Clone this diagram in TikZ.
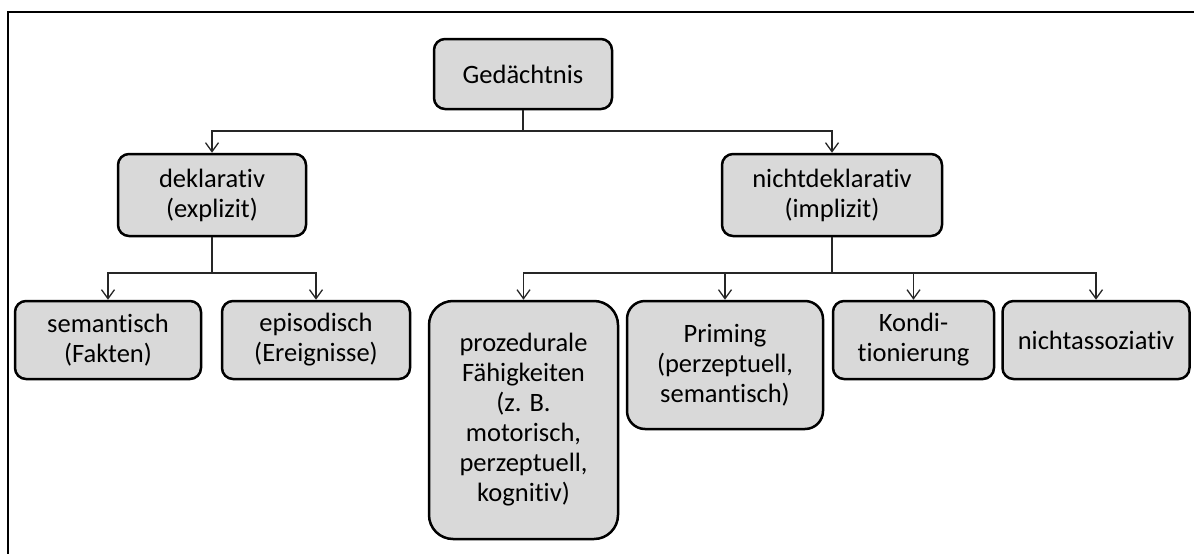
\documentclass[tikz,border=0pt]{standalone}
\usepackage{fontspec}
\setmainfont[Ligatures={NoCommon}]{Carlito}
\usetikzlibrary{arrows.meta}
\definecolor{boxgray}{RGB}{217,217,217}
\begin{document}
\begin{tikzpicture}[x=1pt,y=-1pt,
  box/.style={draw=black,fill=boxgray,line width=2.5pt,rounded corners=11pt,
    inner sep=0pt,align=center,font=\fontsize{26.5}{30}\selectfont},
  link/.style={draw=black!85,line width=1.3pt},
  tip/.style={-{Straight Barb[length=9pt,width=13pt,line width=1.3pt]}}]
\useasboundingbox (0,0) rectangle (1194,554);
% outer frame (top and left edge)
\draw[line width=2pt] (8,554) -- (8,12) -- (1194,12);

% tree levels
\node[box,minimum width=178pt,minimum height=70pt] (G) at (523,74) {Gedächtnis};
\node[box,minimum width=188pt,minimum height=82pt] (dek) at (212,195) {deklarativ\\(explizit)};
\node[box,minimum width=220pt,minimum height=82pt] (nd) at (832,195) {nichtdeklarativ\\(implizit)};

\node[box,minimum width=186pt,minimum height=78pt] (sem) at (108,340) {semantisch\\(Fakten)};
\node[box,minimum width=188pt,minimum height=78pt] (epi) at (316,340) {episodisch\\(Ereignisse)};
\node[box,rounded corners=24pt,minimum width=189pt,minimum height=238pt] (proz) at (523.5,420)
  {prozedurale\\Fähigkeiten\\(z. B.\\motorisch,\\perzeptuell,\\kognitiv)};
\node[box,rounded corners=18pt,minimum width=196pt,minimum height=128pt] (prim) at (725,365)
  {Priming\\(perzeptuell,\\semantisch)};
\node[box,minimum width=161pt,minimum height=78pt] (kond) at (913.5,340) {Kondi-\\tionierung};
\node[box,minimum width=187pt,minimum height=78pt] (nass) at (1096,340) {nichtassoziativ};

% junction points of the connectors
\coordinate (j1) at (523,131);
\coordinate (j2) at (212,273);
\coordinate (j3) at (832,273);

\draw[link] (G.south) -- (j1);
\draw[link,tip] (j1) -| (dek.north);
\draw[link,tip] (j1) -| (nd.north);

\draw[link] (dek.south) -- (j2);
\draw[link,tip] (j2) -| (sem.north);
\draw[link,tip] (j2) -| (epi.north);

\draw[link] (nd.south) -- (j3);
\draw[link,tip] (j3) -| (proz.north);
\draw[link,tip] (j3) -| (prim.north);
\draw[link,tip] (j3) -| (kond.north);
\draw[link,tip] (j3) -| (nass.north);
\end{tikzpicture}
\end{document}
